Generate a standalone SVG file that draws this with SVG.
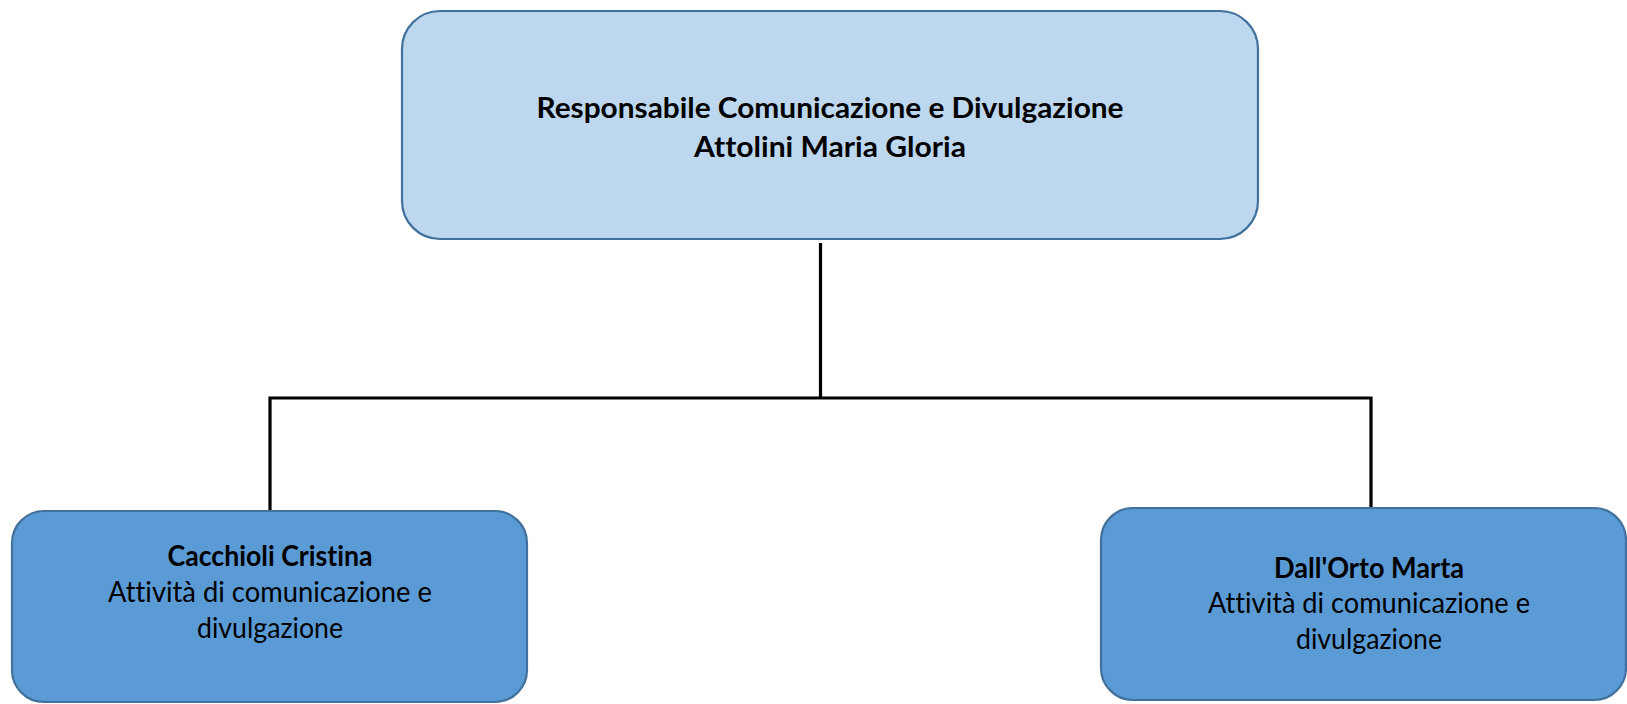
<svg xmlns="http://www.w3.org/2000/svg" width="1627" height="704" viewBox="0 0 1627 704">
<style>
.box{stroke:#41719C;stroke-width:2.2}
.top{fill:#BDD7EE}
.sub{fill:#5B9BD5}
text{font-family:Lato,"Open Sans","Liberation Sans",sans-serif;font-size:29px;fill:#000;text-anchor:middle;font-variant-ligatures:none}
.b{font-weight:bold}
.conn{stroke:#000;stroke-width:3.2;fill:none}
</style>
<g id="connectors">
<path class="conn" d="M820.5 243 V398"/>
<path class="conn" d="M270 510 V398 H1371 V508"/>
</g>
<g id="node-top">
<rect class="box top" x="402" y="11" width="856" height="228" rx="38" ry="38"/>
<text class="b" x="830" y="118" textLength="587" lengthAdjust="spacingAndGlyphs">Responsabile Comunicazione e Divulgazione</text>
<text class="b" x="830" y="157" textLength="272" lengthAdjust="spacingAndGlyphs">Attolini Maria Gloria</text>
</g>
<g id="node-cacchioli">
<rect class="box sub" x="12" y="511" width="515" height="191" rx="32" ry="32"/>
<text class="b" x="270" y="566" textLength="205" lengthAdjust="spacingAndGlyphs">Cacchioli Cristina</text>
<text x="270" y="602" textLength="324" lengthAdjust="spacingAndGlyphs">Attività di comunicazione e</text>
<text x="270" y="638" textLength="146" lengthAdjust="spacingAndGlyphs">divulgazione</text>
</g>
<g id="node-dallorto">
<rect class="box sub" x="1101" y="508" width="525" height="192" rx="32" ry="32"/>
<text class="b" x="1369" y="578" textLength="190" lengthAdjust="spacingAndGlyphs">Dall'Orto Marta</text>
<text x="1369" y="613" textLength="322" lengthAdjust="spacingAndGlyphs">Attività di comunicazione e</text>
<text x="1369" y="649" textLength="146" lengthAdjust="spacingAndGlyphs">divulgazione</text>
</g>
</svg>
